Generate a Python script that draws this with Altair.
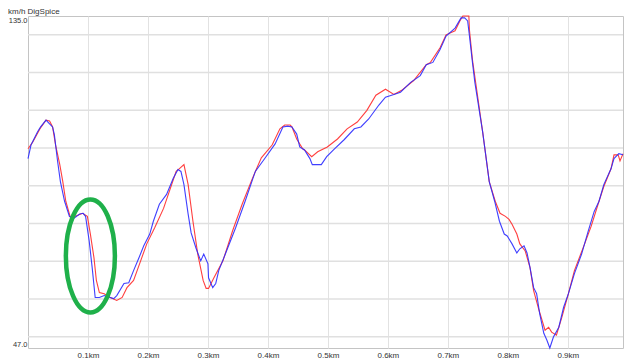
import altair as alt
import pandas as pd

# ---- data ----
blue_km = [0.000, 0.005, 0.016, 0.021, 0.030, 0.036, 0.041, 0.044, 0.049, 0.054,
           0.061, 0.069, 0.077, 0.086, 0.092, 0.096, 0.102, 0.107, 0.112, 0.119,
           0.127, 0.137, 0.143, 0.148, 0.160, 0.168, 0.176, 0.185, 0.193, 0.203,
           0.209, 0.219, 0.231, 0.242, 0.250, 0.255, 0.260, 0.267, 0.272, 0.280,
           0.288, 0.293, 0.300, 0.301, 0.308, 0.313, 0.318, 0.329, 0.346, 0.362,
           0.379, 0.395, 0.412, 0.425, 0.433, 0.440, 0.448, 0.453, 0.461, 0.470,
           0.474, 0.489, 0.498, 0.511, 0.527, 0.544, 0.555, 0.568, 0.585, 0.596,
           0.610, 0.621, 0.638, 0.654, 0.664, 0.675, 0.687, 0.697, 0.712, 0.722,
           0.728, 0.733, 0.736, 0.741, 0.745, 0.758, 0.769, 0.778, 0.786, 0.794,
           0.799, 0.807, 0.815, 0.820, 0.827, 0.832, 0.837, 0.843, 0.848, 0.853,
           0.860, 0.865, 0.870, 0.876, 0.885, 0.893, 0.901, 0.911, 0.923, 0.934,
           0.944, 0.952, 0.960, 0.972, 0.977, 0.985, 0.992]
blue_speed = [97.2, 100.8, 104.3, 105.6, 107.4, 106.4, 105.6, 103.5, 96.9, 91.1,
              85.9, 81.9, 81.4, 82.5, 82.7, 81.9, 75.4, 68.3, 60.4, 60.4,
              60.9, 60.4, 60.1, 60.9, 64.1, 64.3, 67.5, 70.9, 74.1, 77.2,
              80.6, 85.1, 87.7, 91.9, 94.3, 93.8, 90.3, 82.5, 77.5, 73.5,
              70.1, 71.9, 69.3, 65.6, 63.0, 64.1, 67.5, 71.9, 78.8, 85.9,
              93.8, 97.3, 101.1, 105.6, 105.8, 105.6, 103.7, 100.3, 99.5, 97.2,
              95.6, 95.6, 97.7, 99.8, 102.2, 105.1, 105.6, 107.7, 111.4, 113.5,
              114.2, 114.8, 117.4, 119.2, 122.1, 122.7, 126.1, 129.7, 131.8, 134.5,
              134.5, 133.7, 129.7, 122.7, 117.4, 104.3, 91.1, 85.9, 80.6, 77.2,
              76.7, 74.6, 72.2, 73.3, 74.1, 72.2, 68.3, 63.0, 61.4, 56.2,
              50.9, 49.1, 47.0, 49.9, 52.5, 57.8, 61.4, 66.7, 71.9, 78.0,
              83.2, 85.9, 90.3, 94.5, 97.2, 98.5, 98.2]

red_km = [0.000, 0.008, 0.020, 0.030, 0.036, 0.041, 0.046, 0.053, 0.058, 0.063,
          0.071, 0.079, 0.091, 0.099, 0.104, 0.110, 0.114, 0.119, 0.127, 0.137,
          0.148, 0.157, 0.165, 0.176, 0.186, 0.198, 0.211, 0.226, 0.247, 0.252,
          0.260, 0.267, 0.275, 0.283, 0.292, 0.297, 0.301, 0.310, 0.325, 0.341,
          0.357, 0.374, 0.389, 0.407, 0.420, 0.428, 0.437, 0.440, 0.448, 0.458,
          0.461, 0.473, 0.483, 0.499, 0.516, 0.532, 0.549, 0.565, 0.580, 0.596,
          0.610, 0.623, 0.643, 0.664, 0.671, 0.687, 0.697, 0.712, 0.720, 0.725,
          0.735, 0.736, 0.741, 0.758, 0.769, 0.779, 0.787, 0.796, 0.802, 0.807,
          0.815, 0.820, 0.829, 0.837, 0.843, 0.852, 0.857, 0.862, 0.868, 0.873,
          0.881, 0.890, 0.901, 0.911, 0.928, 0.939, 0.952, 0.960, 0.972, 0.977,
          0.984, 0.987, 0.992]
red_speed = [99.8, 101.6, 105.1, 107.4, 107.2, 105.6, 100.8, 95.6, 91.1, 85.9,
             81.4, 81.9, 82.7, 81.9, 77.2, 70.9, 64.9, 61.7, 61.4, 60.4,
             59.6, 60.4, 63.0, 64.9, 69.3, 74.6, 78.8, 84.0, 93.8, 94.5,
             95.6, 90.3, 80.6, 71.9, 64.9, 62.8, 62.8, 65.6, 70.1, 78.0,
             85.1, 91.9, 97.4, 100.8, 105.1, 106.1, 106.1, 105.6, 102.4, 99.8,
             99.5, 97.7, 99.0, 100.3, 102.4, 105.1, 106.9, 110.0, 114.0, 115.6,
             114.2, 115.3, 117.9, 122.1, 122.7, 126.6, 130.0, 131.1, 133.7, 135.0,
             135.0, 131.3, 123.4, 104.3, 91.1, 85.9, 82.7, 81.9, 81.1, 79.8,
             77.2, 74.6, 72.7, 68.3, 62.2, 57.0, 54.4, 51.7, 52.5, 51.2,
             50.4, 55.1, 61.4, 67.5, 74.6, 79.3, 85.9, 89.8, 94.5, 98.2,
             98.2, 96.6, 98.5]

x_ticks = [0.1, 0.2, 0.3, 0.4, 0.5, 0.6, 0.7, 0.8, 0.9]
y_labels = [47, 135]
y_grid = [50, 60, 70, 80, 90, 100, 110, 120, 130]
x_domain = [0, 0.992]
y_domain = [47, 135]

mark_km = [0.104]
mark_speed = [71.4]
header_text = ["km/h  DigSpice"]

FONT = "Liberation Sans, sans-serif"

blue_df = pd.DataFrame({"km": blue_km, "speed": blue_speed})
red_df = pd.DataFrame({"km": red_km, "speed": red_speed})
grid_df = pd.DataFrame({"speed": y_grid})
mark_df = pd.DataFrame({"km": mark_km, "speed": mark_speed})
head_df = pd.DataFrame({"t": header_text})

x_enc = alt.X(
    "km:Q",
    scale=alt.Scale(domain=x_domain, nice=False, zero=False),
    axis=alt.Axis(
        values=x_ticks, labelExpr="datum.value + 'km'", title=None,
        ticks=False, domain=False, grid=True, gridColor="#e2e2e2", gridWidth=1,
        labelFont=FONT, labelFontSize=8, labelColor="#333333", labelPadding=3,
    ),
)
y_enc = alt.Y(
    "speed:Q",
    scale=alt.Scale(domain=y_domain, nice=False, zero=False),
    axis=alt.Axis(
        values=y_labels, format=".1f", labelOverlap=False,
        title=None, ticks=False, domain=False, grid=False,
        labelFlush=True, labelFont=FONT, labelFontSize=7.5,
        labelColor="#333333", labelPadding=1,
    ),
)

grid_rules = alt.Chart(grid_df).mark_rule(
    color="#e0e0e0", strokeWidth=1.5
).encode(y=y_enc)

red_line = alt.Chart(red_df).mark_line(
    color="#ff2a2a", strokeWidth=1.1, opacity=0.9
).encode(x=x_enc, y="speed:Q")

blue_line = alt.Chart(blue_df).mark_line(
    color="#2a2aff", strokeWidth=1.1, opacity=0.9
).encode(x="km:Q", y="speed:Q")

ellipse = alt.Chart(mark_df).mark_point(
    shape="M0,-1A0.434,1,0,1,1,0,1A0.434,1,0,1,1,0,-1Z",
    size=12769, filled=False, stroke="#1fb04a", strokeWidth=4.5, opacity=1,
).encode(x="km:Q", y="speed:Q")

header = alt.Chart(head_df).mark_text(
    align="left", baseline="top", font=FONT, fontSize=8, color="#333333"
).encode(text="t:N", x=alt.value(-20), y=alt.value(-8))

chart = alt.layer(grid_rules, red_line, blue_line, ellipse, header).properties(
    width=595, height=332,
    autosize=alt.AutoSizeParams(type="none"),
    padding={"left": 20, "top": 8, "right": 9, "bottom": 12},
    background="white",
).configure_view(stroke="#c4c4c4", strokeWidth=1)

chart.save("out.html", embed_options={"renderer": "svg", "actions": False})
